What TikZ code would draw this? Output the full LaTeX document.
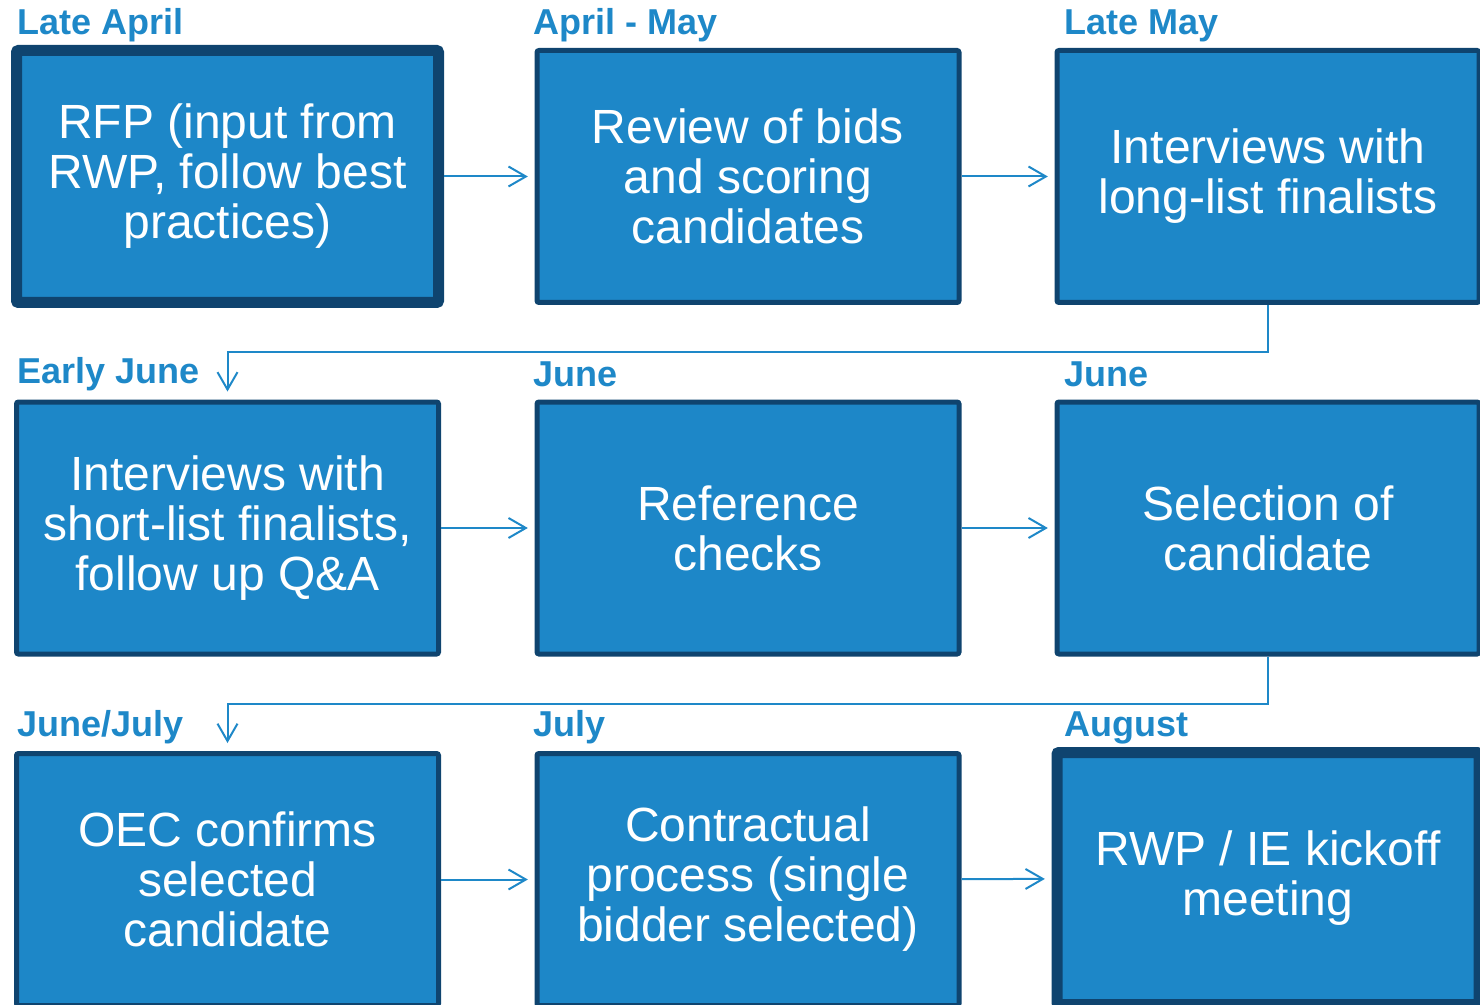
\documentclass[tikz,border=0pt]{standalone}
\usepackage{fontspec}
\setmainfont{Liberation Sans}
\usetikzlibrary{arrows.meta}
\definecolor{boxfill}{HTML}{1D87C8}
\definecolor{boxline}{HTML}{0F446F}
\definecolor{labblue}{HTML}{1E88C8}
\tikzset{
  stepbox/.style={draw=boxline, fill=boxfill, line width=3.75pt, rounded corners=1.5pt,
    minimum width=316.5pt, minimum height=189pt, inner sep=0pt, align=center,
    text=white, font=\fontsize{36}{37.5}\selectfont},
  thickbox/.style={stepbox, line width=8.25pt},
  lab/.style={anchor=base west, inner sep=0pt, text=labblue, font=\fontsize{27}{30}\selectfont\bfseries},
  arr/.style={draw=labblue, line width=1.5pt, -{Straight Barb[length=13pt,width=15pt,line width=1.5pt]}, shorten >=5pt},
}
\begin{document}
\begin{tikzpicture}[x=0.75pt,y=-0.75pt]
\useasboundingbox (0,0) rectangle (1480,1005);
% row 1
\node[thickbox] (b1) at (227.5,176.5) {RFP (input from\\RWP, follow best\\practices)};
\node[stepbox] (b2) at (748,176.5) {Review of bids\\and scoring\\candidates};
\node[stepbox] (b3) at (1268,176.5) {Interviews with\\long-list finalists};
% row 2
\node[stepbox] (b4) at (227.5,528) {Interviews with\\short-list finalists,\\follow up Q\&A};
\node[stepbox] (b5) at (748,528) {Reference\\checks};
\node[stepbox] (b6) at (1268,528) {Selection of\\candidate};
% row 3
\node[stepbox] (b7) at (227.5,879.5) {OEC confirms\\selected\\candidate};
\node[stepbox] (b8) at (748,879.5) {Contractual\\process (single\\bidder selected)};
\node[thickbox] (b9) at (1268,878.5) {RWP / IE kickoff\\meeting};
% labels
\node[lab] (l1) at (17,35) {Late April};
\node[lab] (l2) at (533,35) {April - May};
\node[lab] (l3) at (1064,35) {Late May};
\node[lab] (l4) at (17,383) {Early June};
\node[lab] (l5) at (533,386) {June};
\node[lab] (l6) at (1064,386) {June};
\node[lab] (l7) at (17,736) {June/July};
\node[lab] (l8) at (533,736) {July};
\node[lab] (l9) at (1064,736) {August};
% connectors
\draw[arr] (b1) -- (b2);
\draw[arr] (b2) -- (b3);
\draw[arr] (b4) -- (b5);
\draw[arr] (b5) -- (b6);
\draw[arr] (b7) -- (b8);
\draw[arr] (b8) -- (b9);
\draw[arr, shorten >=6pt] (b3.south) -- ++(0,47) -| (b4.north);
\draw[arr, shorten >=6pt] (b6.south) -- ++(0,47) -| (b7.north);
\end{tikzpicture}
\end{document}
